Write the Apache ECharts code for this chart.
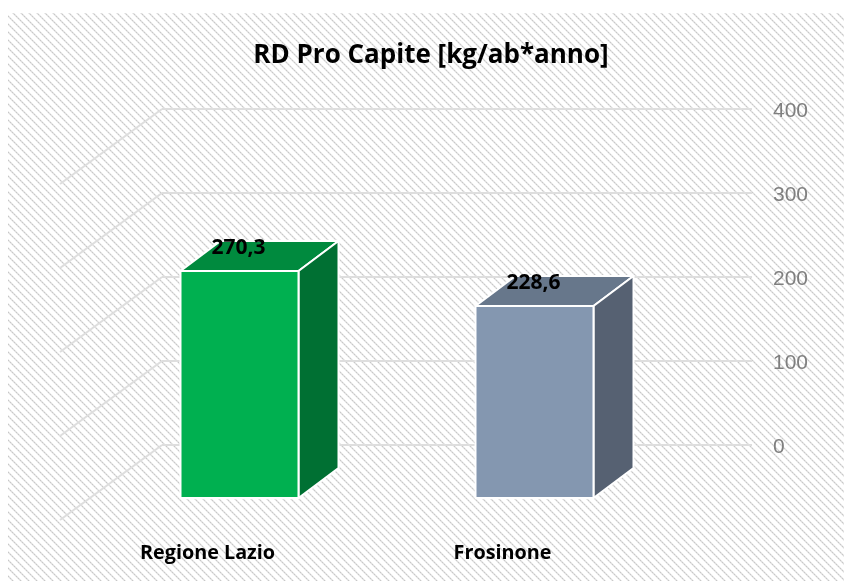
<!DOCTYPE html>
<html><head><meta charset="utf-8">
<style>html,body{margin:0;padding:0;background:#fff}#c{width:844px;height:581px}</style>
<script src="https://cdn.jsdelivr.net/npm/echarts@6/dist/echarts.min.js"></script>
</head><body><div id="c"></div>
<script>
const titleText = 'RD Pro Capite [kg/ab*anno]';
const categories = ['Regione Lazio', 'Frosinone'];
const values = [270.3, 228.6];
const valueLabels = ['270,3', '228,6'];
const wallTicks = [0, 100, 200, 300, 400];
const frontColors = ['#00B050', '#8497B0'];
const topColors = ['#008A3E', '#67778B'];
const sideColors = ['#007033', '#566172'];

function hatchTile() {
  const p = 8, cv = document.createElement('canvas');
  cv.width = p; cv.height = p;
  const g = cv.getContext('2d');
  g.fillStyle = '#ffffff'; g.fillRect(0, 0, p, p);
  for (let y = 0; y < p; y++) for (let x = 0; x < p; x++) {
    const d = ((x - y) % p + p) % p;
    if (d === 0) { g.fillStyle = x % 2 ? '#dcdcdc' : '#c8c8c8'; g.fillRect(x, y, 1, 1); }
    else if (d === 1 || d === 7) { g.fillStyle = '#ededed'; g.fillRect(x, y, 1, 1); }
  }
  return cv;
}

const chart = echarts.init(document.getElementById('c'), null, {renderer: 'canvas'});
// Depth geometry of the 3D box (pixel styling offsets)
const toBar = [32, -22], barDepth = [40, -30], barW = 118;
const textFont = 'Open Sans';

chart.setOption({
  animation: false,
  backgroundColor: '#fff',
  graphic: [{type: 'rect', z: -100, silent: true, shape: {x: 8, y: 13, width: 836, height: 568},
    style: {fill: {image: hatchTile(), repeat: 'repeat'}}}],
  title: {text: titleText, left: 426, top: 38, textAlign: 'center',
    textStyle: {fontFamily: textFont, fontWeight: 'bold', fontSize: 26, color: '#000'}},
  grid: [
    {left: 60, right: 194, top: 184, bottom: 61},   // front plane of the floor
    {left: 162, right: 92, top: 109, bottom: 136}   // back wall
  ],
  xAxis: [
    {type: 'category', gridIndex: 0, data: categories, axisLine: {show: false}, axisTick: {show: false},
      axisLabel: {margin: 23, color: '#000', fontFamily: textFont, fontWeight: 'bold', fontSize: 19.8}},
    {type: 'category', gridIndex: 1, data: categories, show: false}
  ],
  yAxis: [
    {type: 'value', gridIndex: 0, min: 0, max: 400, interval: 100, show: false},
    {type: 'value', gridIndex: 1, min: 0, max: 400, interval: 100, position: 'right',
      axisLine: {show: false}, axisTick: {show: false},
      splitLine: {lineStyle: {color: '#DEDEDE', width: 2}},
      axisLabel: {margin: 21, formatter: '{t|{value}}',
        rich: {t: {color: '#7F7F7F', fontFamily: 'Liberation Sans', fontSize: 21, padding: [4, 0, 0, 0]}}}}
  ],
  series: [
    {type: 'custom', xAxisIndex: 0, yAxisIndex: 0, z: 1, silent: true,
      data: wallTicks.map(v => [0, v]),
      renderItem(p, api) {
        const a = api.coord([0, api.value(1)]);
        const left = 60;
        return {type: 'polyline', shape: {points: [[left, a[1]], [left + 102, a[1] - 75]]},
          style: {stroke: '#DEDEDE', lineWidth: 2, fill: null}};
      }},
    {type: 'custom', xAxisIndex: 0, yAxisIndex: 0, z: 3, silent: true,
      data: values.map((v, i) => [i, v]),
      encode: {x: 0, y: 1},
      renderItem(p, api) {
        const i = api.value(0);
        const top = api.coord([i, api.value(1)]);
        const base = api.coord([i, 0]);
        const x0 = top[0] + toBar[0] - barW / 2, x1 = x0 + barW;
        const yt = top[1] + toBar[1], yb = base[1] + toBar[1];
        const dx = barDepth[0], dy = barDepth[1];
        const edge = {stroke: '#fff', lineWidth: 2, lineJoin: 'round'};
        return {type: 'group', children: [
          {type: 'polygon', shape: {points: [[x0, yt], [x1, yt], [x1 + dx, yt + dy], [x0 + dx, yt + dy]]},
            style: {fill: topColors[i], ...edge}},
          {type: 'polygon', shape: {points: [[x1, yt], [x1 + dx, yt + dy], [x1 + dx, yb + dy], [x1, yb]]},
            style: {fill: sideColors[i], ...edge}},
          {type: 'rect', shape: {x: x0, y: yt, width: barW, height: yb - yt},
            style: {fill: frontColors[i], ...edge}},
          {type: 'text', x: x0 + 58, y: yt - 23, style: {text: valueLabels[i], align: 'center', verticalAlign: 'middle',
            fill: '#000', fontFamily: textFont, fontWeight: 'bold', fontSize: 21}}
        ]};
      }}
  ]
});
</script></body></html>
